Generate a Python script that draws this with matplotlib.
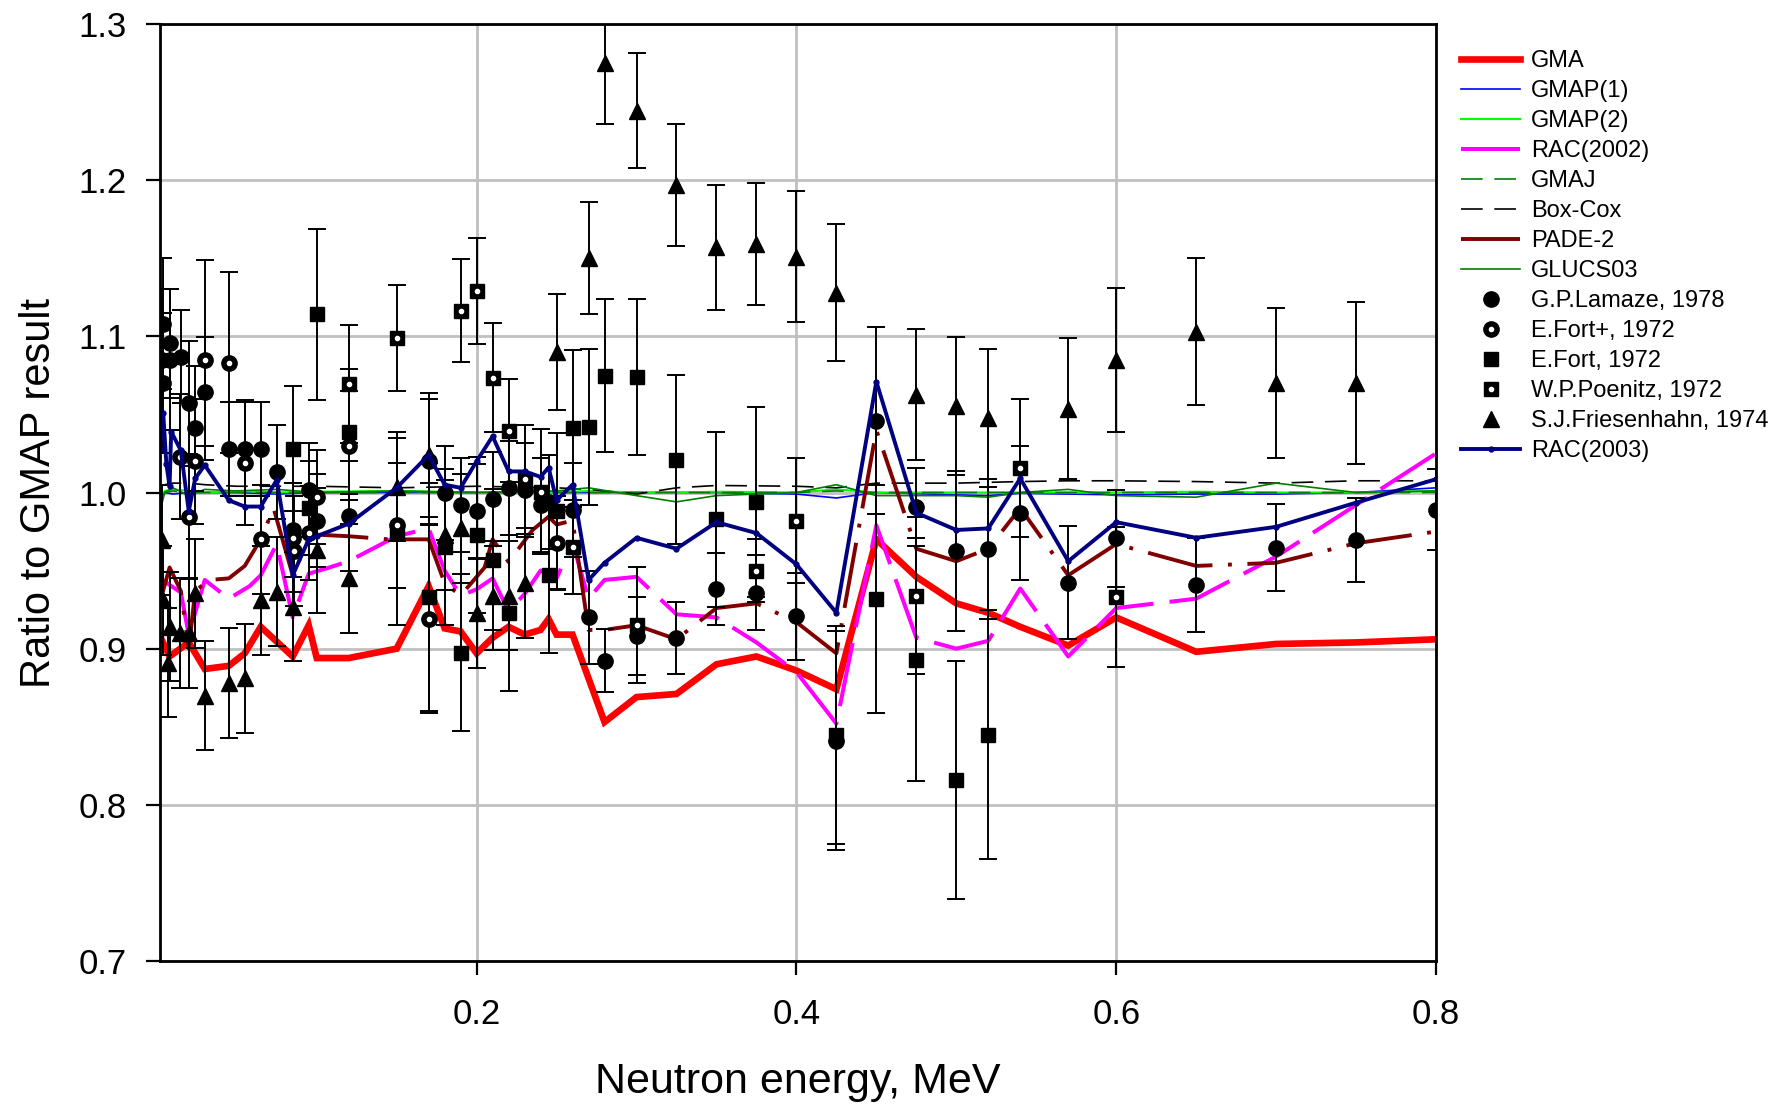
import matplotlib
matplotlib.use("Agg")
import matplotlib.pyplot as plt

plt.rcParams["font.family"] = ["Liberation Sans", "DejaVu Sans"]

# ---------------- evaluated curves (ratio to GMAP) ----------------
e_flat = [0.002, 0.005, 0.01, 0.02, 0.03, 0.05, 0.075, 0.1, 0.15, 0.2, 0.25, 0.27, 0.3,
          0.325, 0.35, 0.4, 0.425, 0.45, 0.5, 0.52, 0.54, 0.57, 0.6, 0.65, 0.7, 0.75, 0.8]
gmap1 = [0.999, 1.0, 0.999, 1.0, 1.0, 1.0, 0.999, 1.0, 1.0, 1.0, 1.0, 1.0, 1.0,
         1.0, 1.0, 0.999, 0.9965, 1.0, 0.9985, 0.998, 0.9995, 0.999, 0.9985, 0.999, 0.999, 1.0, 1.003]
gmap2 = [0.996, 1.001, 1.002, 1.001, 1.0, 1.001, 1.0, 1.0005, 1.001, 1.0, 1.0, 1.001, 1.0,
         1.0, 1.0005, 1.0, 1.002, 1.0, 1.0, 1.0, 1.0, 1.0, 1.0, 1.0005, 1.0, 1.0, 1.001]
gmaj = [0.995, 1.0, 1.001, 1.0, 1.0, 1.0, 1.0, 1.0, 1.0, 1.0, 1.0, 1.0, 1.0,
        1.0, 1.0, 1.0, 1.001, 1.0, 1.0, 1.0, 1.0, 1.0, 1.0, 1.0, 1.0, 1.0, 1.0]
boxcox = [1.004, 1.005, 1.006, 1.006, 1.005, 1.004, 1.004, 1.004, 1.003, 1.004, 1.003, 1.002, 0.999,
          1.003, 1.0045, 1.004, 1.003, 1.006, 1.006, 1.0065, 1.007, 1.0075, 1.0075, 1.007, 1.006, 1.0075, 1.0075]
glucs = [0.988, 1.0, 1.003, 0.998, 1.002, 1.001, 1.002, 1.0, 1.001, 1.0, 1.001, 1.003, 0.998,
         0.994, 0.998, 1.0, 1.005, 0.998, 0.998, 0.997, 1.0, 1.002, 0.998, 0.997, 1.006, 1.0, 1.001]

e_gma = [0.002, 0.008, 0.02, 0.03, 0.045, 0.055, 0.065, 0.085, 0.095, 0.1, 0.12, 0.15, 0.17, 0.18,
         0.19, 0.2, 0.21, 0.22, 0.23, 0.24, 0.245, 0.25, 0.26, 0.28, 0.3, 0.325, 0.35, 0.375, 0.4,
         0.425, 0.45, 0.475, 0.5, 0.52, 0.54, 0.57, 0.6, 0.65, 0.7, 0.75, 0.8]
gma = [0.908, 0.895, 0.904, 0.887, 0.889, 0.897, 0.914, 0.895, 0.915, 0.894, 0.894, 0.900, 0.940, 0.913,
       0.911, 0.897, 0.907, 0.914, 0.909, 0.912, 0.919, 0.909, 0.909, 0.853, 0.869, 0.871, 0.890, 0.895, 0.886,
       0.874, 0.970, 0.946, 0.929, 0.923, 0.914, 0.902, 0.920, 0.898, 0.903, 0.904, 0.906]

e_rac02 = [0.002, 0.015, 0.02, 0.03, 0.045, 0.058, 0.065, 0.075, 0.085, 0.095, 0.108, 0.12, 0.15, 0.17,
           0.18, 0.19, 0.2, 0.21, 0.22, 0.23, 0.24, 0.25, 0.26, 0.27, 0.28, 0.3, 0.325, 0.35, 0.375,
           0.4, 0.425, 0.45, 0.475, 0.5, 0.52, 0.54, 0.57, 0.6, 0.65, 0.7, 0.75, 0.8]
rac02 = [0.945, 0.936, 0.909, 0.944, 0.932, 0.940, 0.947, 0.967, 0.920, 0.948, 0.952, 0.956, 0.972, 0.977,
         0.950, 0.934, 0.938, 0.945, 0.924, 0.935, 0.950, 0.945, 0.968, 0.932, 0.944, 0.946, 0.922, 0.920, 0.904,
         0.885, 0.852, 0.979, 0.907, 0.900, 0.905, 0.9385, 0.895, 0.926, 0.932, 0.959, 0.992, 1.025]

e_pade = [0.002, 0.008, 0.015, 0.02, 0.024, 0.033, 0.045, 0.055, 0.065, 0.073, 0.085, 0.095, 0.1, 0.12,
          0.145, 0.17, 0.18, 0.19, 0.205, 0.21, 0.22, 0.235, 0.245, 0.25, 0.26, 0.27, 0.28, 0.3, 0.325,
          0.35, 0.375, 0.4, 0.425, 0.45, 0.475, 0.5, 0.52, 0.54, 0.57, 0.6, 0.65, 0.7, 0.75, 0.8]
pade = [0.930, 0.952, 0.937, 0.900, 0.937, 0.944, 0.945, 0.953, 0.970, 0.990, 0.947, 0.970, 0.973, 0.972,
        0.970, 0.970, 0.942, 0.934, 0.952, 0.970, 0.9555, 0.976, 0.9845, 0.9795, 0.982, 0.912, 0.912, 0.915, 0.906,
        0.926, 0.929, 0.917, 0.897, 1.040, 0.964, 0.956, 0.964, 0.990, 0.947, 0.967, 0.953, 0.955, 0.9675, 0.975]

e_rac03 = [0.002, 0.004, 0.006, 0.008, 0.009, 0.015, 0.02, 0.024, 0.03, 0.045, 0.055, 0.065, 0.075, 0.085,
           0.095, 0.1, 0.12, 0.15, 0.17, 0.18, 0.19, 0.2, 0.21, 0.22, 0.23, 0.24, 0.245, 0.25, 0.26,
           0.27, 0.28, 0.3, 0.325, 0.35, 0.375, 0.4, 0.425, 0.45, 0.475, 0.5, 0.52, 0.54, 0.57, 0.6,
           0.65, 0.7, 0.75, 0.8]
rac03 = [1.028, 1.051, 1.018, 1.004, 1.039, 1.027, 0.988, 1.009, 1.0175, 0.995, 0.991, 0.991, 1.008, 0.947,
         0.970, 0.972, 0.980, 1.003, 1.024, 1.005, 1.003, 1.020, 1.036, 1.0135, 1.0135, 1.010, 1.016, 0.995, 1.005,
         0.944, 0.955, 0.971, 0.964, 0.981, 0.974, 0.954, 0.923, 1.071, 0.987, 0.976, 0.977, 1.009, 0.956, 0.981,
         0.971, 0.978, 0.9935, 1.0085]

# ---------------- experimental data ----------------
lam_e = [0.003, 0.004, 0.004, 0.008, 0.008, 0.015, 0.02, 0.024, 0.03, 0.045, 0.055, 0.065, 0.075, 0.085,
         0.095, 0.1, 0.12, 0.17, 0.18, 0.19, 0.2, 0.21, 0.22, 0.23, 0.24, 0.245, 0.26, 0.27, 0.28,
         0.3, 0.325, 0.35, 0.375, 0.4, 0.425, 0.45, 0.475, 0.5, 0.52, 0.54, 0.57, 0.6, 0.65, 0.7, 0.75, 0.8]
lam_r = [1.085, 1.108, 1.070, 1.0955, 1.085, 1.087, 1.057, 1.041, 1.0645, 1.028, 1.028, 1.028, 1.013, 0.976,
         1.0016, 0.982, 0.985, 1.020, 0.9995, 0.992, 0.988, 0.996, 1.0027, 1.0016, 0.992, 0.994, 0.9887, 0.920, 0.8924,
         0.908, 0.9067, 0.938, 0.9358, 0.9207, 0.841, 1.046, 0.991, 0.9625, 0.9638, 0.987, 0.9423, 0.9706, 0.9408,
         0.9647, 0.9696, 0.989]
lam_d = [0.045, 0.042, 0.045, 0.035, 0.045, 0.030, 0.040, 0.040, 0.035, 0.030, 0.030, 0.030, 0.030, 0.030,
         0.030, 0.030, 0.035, 0.040, 0.030, 0.030, 0.030, 0.030, 0.030, 0.030, 0.030, 0.030, 0.030, 0.030, 0.020,
         0.025, 0.023, 0.023, 0.024, 0.028, 0.070, 0.060, 0.025, 0.051, 0.045, 0.043, 0.036, 0.031, 0.030,
         0.028, 0.027, 0.026]

fortp_e = [0.0145, 0.02, 0.024, 0.03, 0.045, 0.055, 0.065, 0.085, 0.086, 0.095, 0.1, 0.12, 0.15, 0.17, 0.25]
fortp_r = [1.023, 0.9845, 1.020, 1.085, 1.083, 1.019, 0.970, 0.971, 0.9625, 0.974, 0.997, 1.030, 0.979, 0.919, 0.9675]
fortp_d = [0.040, 0.040, 0.040, 0.064, 0.058, 0.040, 0.035, 0.035, 0.035, 0.030, 0.030, 0.035, 0.040, 0.060, 0.030]

fort_e = [0.085, 0.095, 0.1, 0.12, 0.15, 0.17, 0.18, 0.19, 0.2, 0.21, 0.22, 0.245, 0.25, 0.26, 0.27,
          0.28, 0.3, 0.325, 0.35, 0.375, 0.425, 0.45, 0.475, 0.5, 0.52]
fort_r = [1.028, 0.990, 1.114, 1.039, 0.975, 0.933, 0.965, 0.8975, 0.9728, 0.957, 0.9227, 0.947, 0.988, 1.041, 1.042,
          1.0747, 1.074, 1.021, 0.983, 0.9938, 0.8447, 0.932, 0.893, 0.816, 0.845]
fort_d = [0.040, 0.030, 0.055, 0.040, 0.060, 0.073, 0.050, 0.050, 0.050, 0.045, 0.050, 0.050, 0.050, 0.050, 0.050,
          0.049, 0.050, 0.054, 0.056, 0.061, 0.070, 0.073, 0.078, 0.076, 0.080]

poen_e = [0.12, 0.15, 0.19, 0.2, 0.21, 0.22, 0.23, 0.24, 0.26, 0.3, 0.375, 0.4, 0.475, 0.54, 0.6]
poen_r = [1.0695, 1.0987, 1.1164, 1.129, 1.0735, 1.0396, 1.0084, 1.0005, 0.965, 0.915, 0.950, 0.982, 0.934, 1.0157, 0.933]
poen_d = [0.038, 0.034, 0.033, 0.034, 0.035, 0.033, 0.035, 0.040, 0.030, 0.037, 0.020, 0.040, 0.050, 0.044, 0.045]

fries_e = [0.003, 0.004, 0.007, 0.008, 0.0145, 0.02, 0.024, 0.03, 0.045, 0.055, 0.065, 0.075, 0.085, 0.1,
           0.12, 0.15, 0.17, 0.18, 0.19, 0.2, 0.21, 0.22, 0.23, 0.25, 0.27, 0.28, 0.3, 0.325, 0.35,
           0.375, 0.4, 0.425, 0.475, 0.5, 0.52, 0.57, 0.6, 0.65, 0.7, 0.75]
fries_r = [0.9696, 0.931, 0.891, 0.914, 0.910, 0.910, 0.9355, 0.870, 0.878, 0.881, 0.931, 0.9365, 0.927, 0.963,
           0.945, 1.0037, 1.024, 0.9728, 0.977, 0.9227, 0.934, 0.934, 0.942, 1.090, 1.150, 1.275, 1.2445, 1.197, 1.157,
           1.159, 1.151, 1.128, 1.0625, 1.0554, 1.0478, 1.0537, 1.085, 1.103, 1.070, 1.070]
fries_d = [0.035, 0.035, 0.035, 0.035, 0.035, 0.035, 0.035, 0.035, 0.035, 0.035, 0.035, 0.035, 0.035, 0.040,
           0.035, 0.035, 0.040, 0.035, 0.035, 0.035, 0.035, 0.035, 0.035, 0.037, 0.036, 0.039, 0.037, 0.039, 0.040,
           0.039, 0.042, 0.044, 0.042, 0.044, 0.044, 0.045, 0.046, 0.047, 0.048, 0.052]

x_ticks = [0.2, 0.4, 0.6, 0.8]
x_labels = ["0.2", "0.4", "0.6", "0.8"]
y_ticks = [0.7, 0.8, 0.9, 1.0, 1.1, 1.2, 1.3]
y_labels = ["0.7", "0.8", "0.9", "1.0", "1.1", "1.2", "1.3"]

# ---------------- figure ----------------
fig = plt.figure(figsize=(17.81, 11.08), dpi=100)
ax = fig.add_axes([160 / 1781, 1 - 961 / 1108, 1276 / 1781, 937 / 1108])

h_gma, = ax.plot(e_gma, gma, color="#ff0000", lw=4.8, zorder=3, solid_joinstyle="miter")
h_g1, = ax.plot(e_flat, gmap1, color="#0000ff", lw=1.2, zorder=2)
h_g2, = ax.plot(e_flat, gmap2, color="#00ff00", lw=1.5, zorder=2)
h_r02, = ax.plot(e_rac02, rac02, color="#ff00ff", lw=2.9, dashes=(16, 4), zorder=3)
h_gj, = ax.plot(e_flat, gmaj, color="#008000", lw=1.2, dashes=(13, 7), zorder=2)
h_bc, = ax.plot(e_flat, boxcox, color="black", lw=1.2, dashes=(13, 7), zorder=2)
h_pd, = ax.plot(e_pade, pade, color="#800000", lw=2.8, dashes=(17, 4, 1, 4), zorder=3)
h_gl, = ax.plot(e_flat, glucs, color="#008000", lw=1.2, zorder=2)

eb = dict(fmt="none", ecolor="black", elinewidth=1.4, capsize=6.5, capthick=1.4, zorder=4)
for xs, ys, ds in [(lam_e, lam_r, lam_d), (fortp_e, fortp_r, fortp_d), (fort_e, fort_r, fort_d),
                   (poen_e, poen_r, poen_d), (fries_e, fries_r, fries_d)]:
    ax.errorbar(xs, ys, yerr=ds, **eb)

h_lam, = ax.plot(lam_e, lam_r, "o", color="black", ms=11, ls="none", zorder=5)
h_fp, = ax.plot(fortp_e, fortp_r, "o", color="black", ms=11, ls="none", zorder=5)
h_fpd, = ax.plot(fortp_e, fortp_r, "o", color="white", ms=3, ls="none", zorder=5.1)
h_ft, = ax.plot(fort_e, fort_r, "s", color="black", ms=10, ls="none", zorder=5)
h_pn, = ax.plot(poen_e, poen_r, "s", color="black", ms=10, ls="none", zorder=5)
h_pnd, = ax.plot(poen_e, poen_r, "o", color="white", ms=3, ls="none", zorder=5.1)
h_fr, = ax.plot(fries_e, fries_r, "^", color="black", ms=11, ls="none", zorder=5)

h_r03, = ax.plot(e_rac03, rac03, color="#000080", lw=2.8, marker="o", ms=3.5, zorder=6)

ax.set_xlim(0.002, 0.8)
ax.set_ylim(0.7, 1.3)
ax.set_xticks(x_ticks)
ax.set_xticklabels(x_labels)
ax.set_yticks(y_ticks)
ax.set_yticklabels(y_labels)
ax.tick_params(direction="out", length=10, width=1.6, labelsize=25, colors="black")
ax.tick_params(axis="x", pad=17)
ax.tick_params(axis="y", pad=14)
ax.grid(True, color="#c0c0c0", lw=2)
ax.set_axisbelow(True)
for s in ax.spines.values():
    s.set_linewidth(2)
    s.set_zorder(7)

ax.set_xlabel("Neutron energy, MeV", fontsize=31, labelpad=22)
ax.set_ylabel("Ratio to GMAP result", fontsize=30, labelpad=14)

handles = [h_gma, h_g1, h_g2, h_r02, h_gj, h_bc, h_pd, h_gl, h_lam, (h_fp, h_fpd), h_ft,
           (h_pn, h_pnd), h_fr, h_r03]
labels = ["GMA", "GMAP(1)", "GMAP(2)", "RAC(2002)", "GMAJ", "Box-Cox", "PADE-2", "GLUCS03",
          "G.P.Lamaze, 1978", "E.Fort+, 1972", "E.Fort, 1972", "W.P.Poenitz, 1972",
          "S.J.Friesenhahn, 1974", "RAC(2003)"]
fig.legend(handles, labels, loc="upper left", bbox_to_anchor=(1461 / 1781, 1 - 50 / 1108),
           frameon=False, fontsize=17, handlelength=2.5, handletextpad=0.45,
           labelspacing=0.34, borderpad=0, borderaxespad=0)

fig.savefig("out.png", dpi=100)
